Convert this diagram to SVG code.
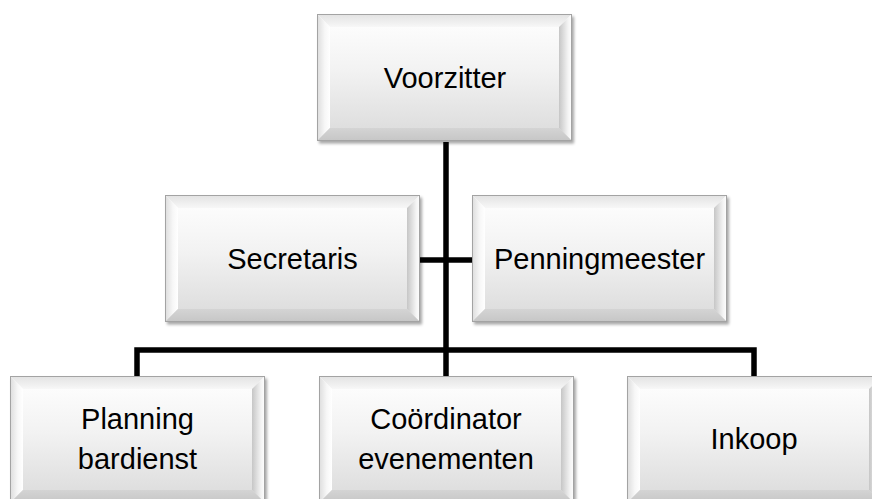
<svg xmlns="http://www.w3.org/2000/svg" xmlns:xlink="http://www.w3.org/1999/xlink" width="872" height="499" viewBox="0 0 872 499">
  <style>
    .lbl { font-family: "Liberation Sans", Arial, sans-serif; font-size: 29px; fill: #000; text-anchor: middle; }
    .conn { fill: none; stroke: #000; stroke-width: 5.5; stroke-linejoin: miter; }
  </style>
  <defs>
    <filter id="shadow" x="-10%" y="-10%" width="120%" height="130%">
      <feGaussianBlur stdDeviation="1.6"/>
    </filter>
    <linearGradient id="face" x1="0" y1="0" x2="0" y2="1">
      <stop offset="0" stop-color="#ffffff"/>
      <stop offset="0.45" stop-color="#f2f2f2"/>
      <stop offset="1" stop-color="#dadada"/>
    </linearGradient>
    <linearGradient id="topB" x1="0" y1="0" x2="0" y2="1">
      <stop offset="0" stop-color="#e2e2e2"/>
      <stop offset="1" stop-color="#f7f7f7"/>
    </linearGradient>
    <linearGradient id="leftB" x1="0" y1="0" x2="1" y2="0">
      <stop offset="0" stop-color="#dcdcdc"/>
      <stop offset="0.6" stop-color="#f7f7f7"/>
      <stop offset="1" stop-color="#ffffff"/>
    </linearGradient>
    <linearGradient id="rightB" x1="0" y1="0" x2="1" y2="0">
      <stop offset="0" stop-color="#c6c6c6"/>
      <stop offset="0.7" stop-color="#f4f4f4"/>
      <stop offset="1" stop-color="#ffffff"/>
    </linearGradient>
    <linearGradient id="botB" x1="0" y1="0" x2="0" y2="1">
      <stop offset="0" stop-color="#d4d4d4"/>
      <stop offset="1" stop-color="#c6c6c6"/>
    </linearGradient>
    <g id="bevelBox">
      <rect x="2" y="2.5" width="255" height="127" fill="#000" opacity="0.35" filter="url(#shadow)"/>
      <rect x="0" y="0" width="255" height="127" fill="url(#face)"/>
      <polygon points="0,0 255,0 242,13 13,13" fill="url(#topB)"/>
      <polygon points="0,0 13,13 13,114 0,127" fill="url(#leftB)"/>
      <polygon points="255,0 255,127 242,114 242,13" fill="url(#rightB)"/>
      <polygon points="0,127 13,114 242,114 255,127" fill="url(#botB)"/>
      <rect x="0.5" y="0.5" width="254" height="126" fill="none" stroke="#a3a3a3" stroke-width="1"/>
    </g>
  </defs>

  <g id="connectors">
    <path class="conn" d="M446 142 V376"/>
    <path class="conn" d="M420 260 H472"/>
    <path class="conn" d="M137 376 V350 H754 V376"/>
  </g>

  <g id="node-voorzitter">
    <use xlink:href="#bevelBox" x="317" y="14"/>
    <text class="lbl" x="445" y="88">Voorzitter</text>
  </g>
  <g id="node-secretaris">
    <use xlink:href="#bevelBox" x="165" y="195"/>
    <text class="lbl" x="292.5" y="269">Secretaris</text>
  </g>
  <g id="node-penningmeester">
    <use xlink:href="#bevelBox" x="472" y="195"/>
    <text class="lbl" x="599.5" y="269">Penningmeester</text>
  </g>
  <g id="node-planning">
    <use xlink:href="#bevelBox" x="10" y="376"/>
    <text class="lbl" x="137.5" y="429">Planning</text>
    <text class="lbl" x="137.5" y="469">bardienst</text>
  </g>
  <g id="node-coordinator">
    <use xlink:href="#bevelBox" x="319" y="376"/>
    <text class="lbl" x="446" y="429">Coördinator</text>
    <text class="lbl" x="446" y="469">evenementen</text>
  </g>
  <g id="node-inkoop">
    <use xlink:href="#bevelBox" x="627" y="376"/>
    <text class="lbl" x="754" y="449">Inkoop</text>
  </g>
</svg>
